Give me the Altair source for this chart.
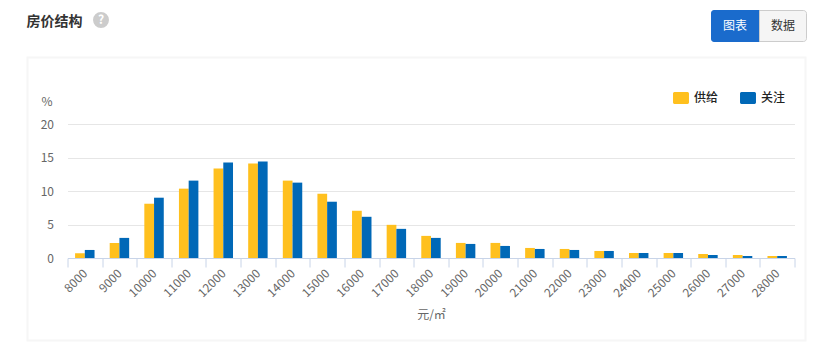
import altair as alt
import pandas as pd

prices = [str(p) for p in [8000,9000,10000,11000,12000,13000,14000,15000,16000,17000,18000,19000,20000,21000,22000,23000,24000,25000,26000,27000,28000]]
supply = [0.7,2.25,8.1,10.35,13.35,14.1,11.55,9.6,7.05,4.95,3.3,2.25,2.25,1.5,1.35,1.05,0.75,0.75,0.6,0.45,0.3]
attention = [1.2,3.0,9.0,11.55,14.25,14.4,11.25,8.4,6.15,4.35,3.0,2.1,1.8,1.35,1.2,1.05,0.75,0.75,0.45,0.3,0.3]
series = ["供给", "关注"]
colors = ["#FFC01E", "#0068B7"]
yticks = [0, 5, 10, 15, 20]
title_text = "房价结构"
FONT = "Noto Sans CJK SC"

OX, OY = 67.5, 124.0
W, H = 727, 134

df = pd.DataFrame(
    [{"price": p, "series": series[0], "value": v} for p, v in zip(prices, supply)]
    + [{"price": p, "series": series[1], "value": v} for p, v in zip(prices, attention)]
)

one = alt.Data(values=[{"a": 1}])

def box(x0, y0, x1, y1, **kw):
    return alt.Chart(one).mark_rect(**kw).encode(
        x=alt.value(x0 - OX), x2=alt.value(x1 - OX),
        y=alt.value(y0 - OY), y2=alt.value(y1 - OY))

def label(txt, x, y, **kw):
    return alt.Chart(alt.Data(values=[{"t": txt}])).mark_text(font=FONT, **kw).encode(
        x=alt.value(x - OX), y=alt.value(y - OY), text="t:N")

panel = box(27.5, 57.5, 805.5, 340.5, fill="transparent", stroke="#f6f6f6", strokeWidth=2)
btn1 = box(711, 10, 760, 42, fill="#1A6BCC", cornerRadiusTopLeft=3, cornerRadiusBottomLeft=3)
btn2 = box(759.5, 10.5, 806.5, 41.5, fill="#F5F5F5", stroke="#CCCCCC",
           cornerRadiusTopRight=3, cornerRadiusBottomRight=3)
help_dot = alt.Chart(one).mark_point(filled=True, size=254, color="#CCCCCC", opacity=1).encode(
    x=alt.value(101 - OX), y=alt.value(20 - OY))

bars = alt.Chart(df).mark_bar(width=alt.RelativeBandSize(band=1)).encode(
    x=alt.X("price:N", sort=prices,
            scale=alt.Scale(paddingInner=0, paddingOuter=0),
            title="元/㎡",
            axis=alt.Axis(labelAngle=-45, labelAlign="right", labelBaseline="middle",
                          labelFont=FONT, labelFontSize=12, labelColor="#666666",
                          labelPadding=4, labelOverlap=False,
                          tickBand="extent", tickSize=9, tickColor="#C8D4E8", tickWidth=1,
                          domainColor="#C8D4E8", domainWidth=1, grid=False,
                          titleFont=FONT, titleFontSize=12, titleFontWeight="normal",
                          titleColor="#666666", titleY=51)),
    xOffset=alt.XOffset("series:N", sort=series,
                        scale=alt.Scale(domain=series, paddingInner=0, paddingOuter=0.78)),
    y=alt.Y("value:Q", scale=alt.Scale(domain=[0, 20], nice=False),
            title="%",
            axis=alt.Axis(values=yticks, domain=False, ticks=False, grid=True,
                          gridColor="#E6E6E6", gridWidth=1,
                          labelFont=FONT, labelFontSize=12, labelColor="#666666",
                          labelPadding=14,
                          titleFont=FONT, titleFontSize=12, titleFontWeight="normal",
                          titleColor="#666666", titleAngle=0, titleX=-21, titleY=-23,
                          titleAlign="center", titleBaseline="middle")),
    color=alt.Color("series:N", sort=series,
                    scale=alt.Scale(domain=series, range=colors),
                    legend=alt.Legend(title=None, orient="none", legendX=601.5, legendY=-38,
                                      direction="horizontal", columns=2, columnPadding=17,
                                      symbolType="M-0.55,-0.5 H0.55 A0.12,0.12 0 0 1 0.665,-0.38 V0.38 A0.12,0.12 0 0 1 0.55,0.5 H-0.55 A0.12,0.12 0 0 1 -0.665,0.38 V-0.38 A0.12,0.12 0 0 1 -0.55,-0.5 Z",
                                      symbolSize=576, symbolStrokeWidth=0,
                                      labelFont=FONT, labelFontSize=12, labelColor="#222222",
                                      labelOffset=1, labelFontWeight=500)),
)

chart = alt.layer(
    panel, btn1, btn2, help_dot,
    label(title_text, 54.5, 22, fontSize=14, fontWeight="bold", color="#333333"),
    label("?", 101, 20, fontSize=12, fontWeight="bold", color="white"),
    label("图表", 735, 26, fontSize=12, color="white"),
    label("数据", 783, 26, fontSize=12, color="#333333"),
    bars,
).properties(
    width=W, height=H,
    padding={"left": OX - 8, "top": OY - 8, "right": 811 - (OX - 8) - W, "bottom": 336 - (OY - 8) - H},
    autosize=alt.AutoSizeParams(type="none"),
).configure_view(stroke=None)

chart.save("out.html", embed_options={"renderer": "svg", "actions": False})
